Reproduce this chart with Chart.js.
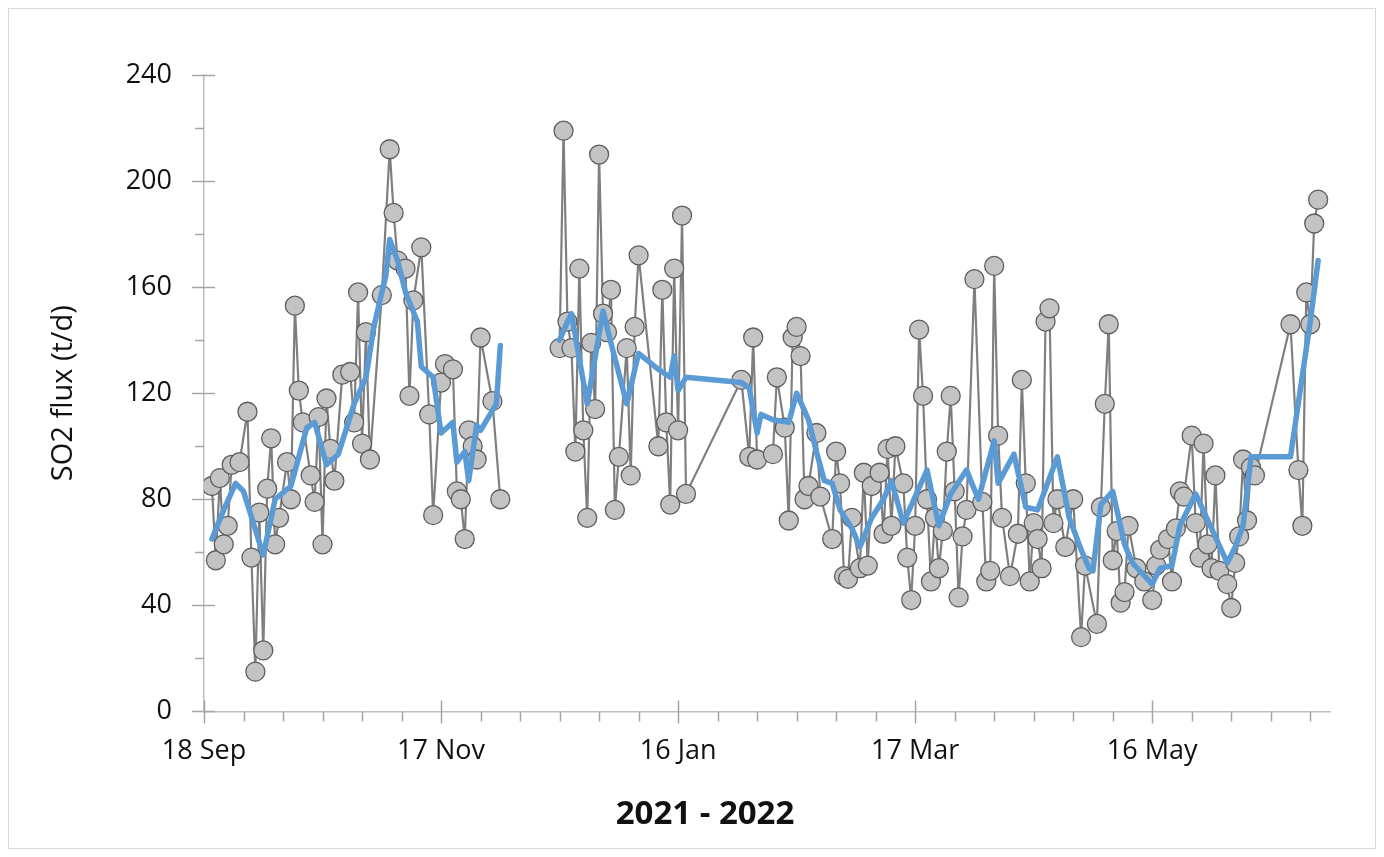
<!DOCTYPE html>
<html>
<head>
<meta charset="utf-8">
<script src="https://cdn.jsdelivr.net/npm/chart.js@4.4.1/dist/chart.umd.min.js"></script>
<style>
  html, body { margin: 0; padding: 0; background: #fff; }
  #frame { position: absolute; left: 8px; top: 8px; width: 1368px; height: 841px; border: 1px solid #d9d9d9; box-sizing: border-box; }
  #frame canvas { display: block; }
</style>
</head>
<body>
<div id="frame"><canvas id="fluxChart" width="1366" height="839"></canvas></div>
<script>
// days since 18 Sep 2021, null = no data (gap in the record)
const fluxDays = [
  2, 3, 4, 5, 6, 7, 9, 11, 12, 13, 14, 15, 16, 17, 18, 19, 21, 22, 23, 24, 25, 27, 28, 29, 30,
  31, 32, 33, 35, 37, 38, 39, 40, 41, 42, 45, 47, 48, 49, 51, 52, 53, 55, 57, 58, 60, 61, 63,
  64, 65, 66, 67, 68, 69, 70, 73, 75,
  82,
  90, 91, 92, 93, 94, 95, 96, 97, 98, 99, 100, 101, 102, 103, 104, 105, 107, 108, 109, 110,
  115, 116, 117, 118, 119, 120, 121, 122,
  136, 138, 139, 140, 144, 145, 147, 148, 149, 150, 151, 152, 153, 155, 156, 159, 160, 161,
  162, 163, 164, 166, 167, 168, 169, 171, 172, 173, 174, 175,
  177, 178, 179, 180, 181, 182, 183, 184, 185, 186, 187, 188, 189, 190, 191, 192, 193, 195,
  197, 198, 199, 200, 201, 202, 204, 206, 207, 208, 209, 210, 211, 212, 213, 214, 215, 216,
  218, 220, 222, 223, 226, 227, 228, 229, 230, 231, 232, 233, 234, 236, 238, 240, 241, 242,
  244, 245, 246, 247, 248, 250, 251, 252, 253, 254, 255, 256, 257, 259, 260, 261, 262, 263,
  264, 265, 266, 275, 277, 278, 279, 280, 281, 282
];
const fluxValues = [
  85, 57, 88, 63, 70, 93, 94, 113, 58, 15, 75, 23, 84, 103, 63, 73, 94, 80, 153, 121, 109, 89, 79, 111, 63,
  118, 99, 87, 127, 128, 109, 158, 101, 143, 95, 157, 212, 188, 170, 167, 119, 155, 175, 112, 74, 124, 131, 129,
  83, 80, 65, 106, 100, 95, 141, 117, 80,
  null,
  137, 219, 147, 137, 98, 167, 106, 73, 139, 114, 210, 150, 143, 159, 76, 96, 137, 89, 145, 172,
  100, 159, 109, 78, 167, 106, 187, 82,
  125, 96, 141, 95, 97, 126, 107, 72, 141, 145, 134, 80, 85, 105, 81, 65, 98, 86,
  51, 50, 73, 54, 90, 55, 85, 90, 67, 99, 70, 100,
  86, 58, 42, 70, 144, 119, 80, 49, 73, 54, 68, 98, 119, 83, 43, 66, 76, 163,
  79, 49, 53, 168, 104, 73, 51, 67, 125, 86, 49, 71, 65, 54, 147, 152, 71, 80,
  62, 80, 28, 55, 33, 77, 116, 146, 57, 68, 41, 45, 70, 54, 49, 42, 55, 61,
  65, 49, 69, 83, 81, 104, 71, 58, 101, 63, 54, 89, 53, 48, 39, 56, 66, 95,
  72, 92, 89, 146, 91, 70, 158, 146, 184, 193
];

// running mean (blue line)
const meanDays = [
  2, 5, 8, 10, 15, 18, 22, 26, 28, 31, 34, 38, 41, 43, 45, 46, 47, 49, 51, 54, 55, 58, 60, 63,
  64, 66, 67, 69, 70, 74, 75,
  82,
  90, 92, 93, 97, 101, 103, 107, 110, 115, 118, 119, 120, 122, 136, 138, 140, 141, 144, 148,
  150, 153, 155, 157, 159, 161, 164, 166, 169, 172, 174, 177, 183, 186, 189, 193, 196, 200,
  201, 205, 208, 211, 216, 219, 222, 224, 225, 227, 230, 233, 235, 240, 242, 245, 247, 251,
  255, 259, 261, 263, 265, 275, 280, 282
];
const meanValues = [
  65, 76, 86, 83, 59, 80, 85, 107, 109, 93, 97, 116, 126, 145, 158, 164, 178, 170, 158, 147, 130, 126, 105, 109,
  94, 98, 87, 108, 106, 116, 138,
  null,
  140, 147, 150, 116, 151, 139, 116, 135, 129, 126, 134, 121, 126, 124, 122, 105, 112, 110, 109,
  120, 110, 98, 87, 86, 76, 69, 62, 73, 80, 87, 71, 91, 70, 82, 91, 80, 102,
  86, 97, 77, 76, 96, 73, 61, 54, 53, 78, 83, 63, 56, 48, 54, 55, 70, 82,
  69, 56, 62, 70, 96, 96, 147, 170
];

const yTicks = [0, 40, 80, 120, 160, 200, 240];
const xTickDays = [0, 60, 120, 180, 240];
const startDate = Date.UTC(2021, 8, 18);
const monthNames = ["Jan", "Feb", "Mar", "Apr", "May", "Jun", "Jul", "Aug", "Sep", "Oct", "Nov", "Dec"];

function dayLabel(day) {
  const d = new Date(startDate + day * 86400000);
  return d.getUTCDate() + " " + monthNames[d.getUTCMonth()];
}

const fontFamily = "'Open Sans', 'Noto Sans', sans-serif";
const textColor = "#111111";

// tick marks: long ones cross the axis, short ones sit outside
const axisTicks = {
  id: "axisTicks",
  beforeDatasetsDraw(chart) {
    const { ctx, scales: { x, y } } = chart;
    ctx.save();
    ctx.strokeStyle = "#a6a6a6";
    ctx.lineWidth = 1.5;
    ctx.beginPath();
    x.ticks.forEach((t) => {
      const px = Math.round(x.getPixelForValue(t.value)) + 0.5;
      const major = xTickDays.includes(t.value);
      ctx.moveTo(px, x.top - (major ? 11 : 0));
      ctx.lineTo(px, x.top + (major ? 12 : 10));
    });
    y.ticks.forEach((t) => {
      const py = Math.round(y.getPixelForValue(t.value)) + 0.5;
      const major = yTicks.includes(t.value);
      ctx.moveTo(y.right - (major ? 12 : 9), py);
      ctx.lineTo(y.right + (major ? 11 : 0), py);
    });
    ctx.stroke();
    ctx.restore();
  },
};

const ctx = document.getElementById("fluxChart").getContext("2d");

new Chart(ctx, {
  type: "line",
  data: {
    datasets: [
      {
        label: "Running mean",
        data: meanDays.map((d, i) => ({ x: d, y: meanValues[i] })),
        borderColor: "#5b9bd5",
        borderWidth: 5.5,
        borderJoinStyle: "round",
        borderCapStyle: "round",
        pointRadius: 0,
        spanGaps: false,
        order: 0,
      },
      {
        label: "SO2 flux",
        data: fluxDays.map((d, i) => ({ x: d, y: fluxValues[i] })),
        borderColor: "#7f7f7f",
        borderWidth: 2.2,
        pointRadius: 9.5,
        pointBackgroundColor: "#c3c3c3",
        pointBorderColor: "#5e5e5e",
        pointBorderWidth: 1.3,
        spanGaps: false,
        order: 1,
      },
    ],
  },
  options: {
    responsive: false,
    animation: false,
    layout: { padding: { top: 66, right: 0, bottom: 0, left: 26 } },
    plugins: {
      legend: { display: false },
      tooltip: { enabled: false },
      title: {
        display: true,
        position: "bottom",
        text: "2021 - 2022",
        color: textColor,
        font: { family: fontFamily, size: 33, weight: "bold" },
        padding: { top: 0, bottom: 14 },
      },
    },
    scales: {
      x: {
        type: "linear",
        min: 0,
        max: 285,
        afterFit: (scale) => { scale.height = 83; },
        ticks: {
          stepSize: 10,
          includeBounds: false,
          autoSkip: false,
          maxRotation: 0,
          minRotation: 0,
          padding: 12,
          color: textColor,
          font: { family: fontFamily, size: 27 },
          callback: (v) => (xTickDays.includes(v) ? dayLabel(v) : ""),
        },
        grid: { drawOnChartArea: false, tickLength: 12, tickColor: "rgba(0,0,0,0)" },
        border: { color: "#bfbfbf", width: 1.5 },
      },
      y: {
        min: 0,
        max: 240,
        afterFit: (scale) => { scale.width = 169; },
        ticks: {
          stepSize: 20,
          padding: 20,
          color: textColor,
          font: { family: fontFamily, size: 27 },
          callback: (v) => (yTicks.includes(v) ? v : ""),
        },
        grid: { drawOnChartArea: false, tickLength: 12, tickColor: "rgba(0,0,0,0)" },
        border: { color: "#bfbfbf", width: 1.5 },
        title: {
          display: true,
          text: "SO2 flux (t/d)",
          color: textColor,
          font: { family: fontFamily, size: 29 },
          padding: { top: 11, bottom: 0 },
        },
      },
      // empty right-hand spacer so the chart area ends where the reference does
      spacer: {
        type: "linear",
        position: "right",
        display: true,
        afterFit: (scale) => { scale.width = 45; },
        ticks: { display: false },
        grid: { display: false },
        border: { display: false },
      },
    },
  },
  plugins: [axisTicks],
});
</script>
</body>
</html>
